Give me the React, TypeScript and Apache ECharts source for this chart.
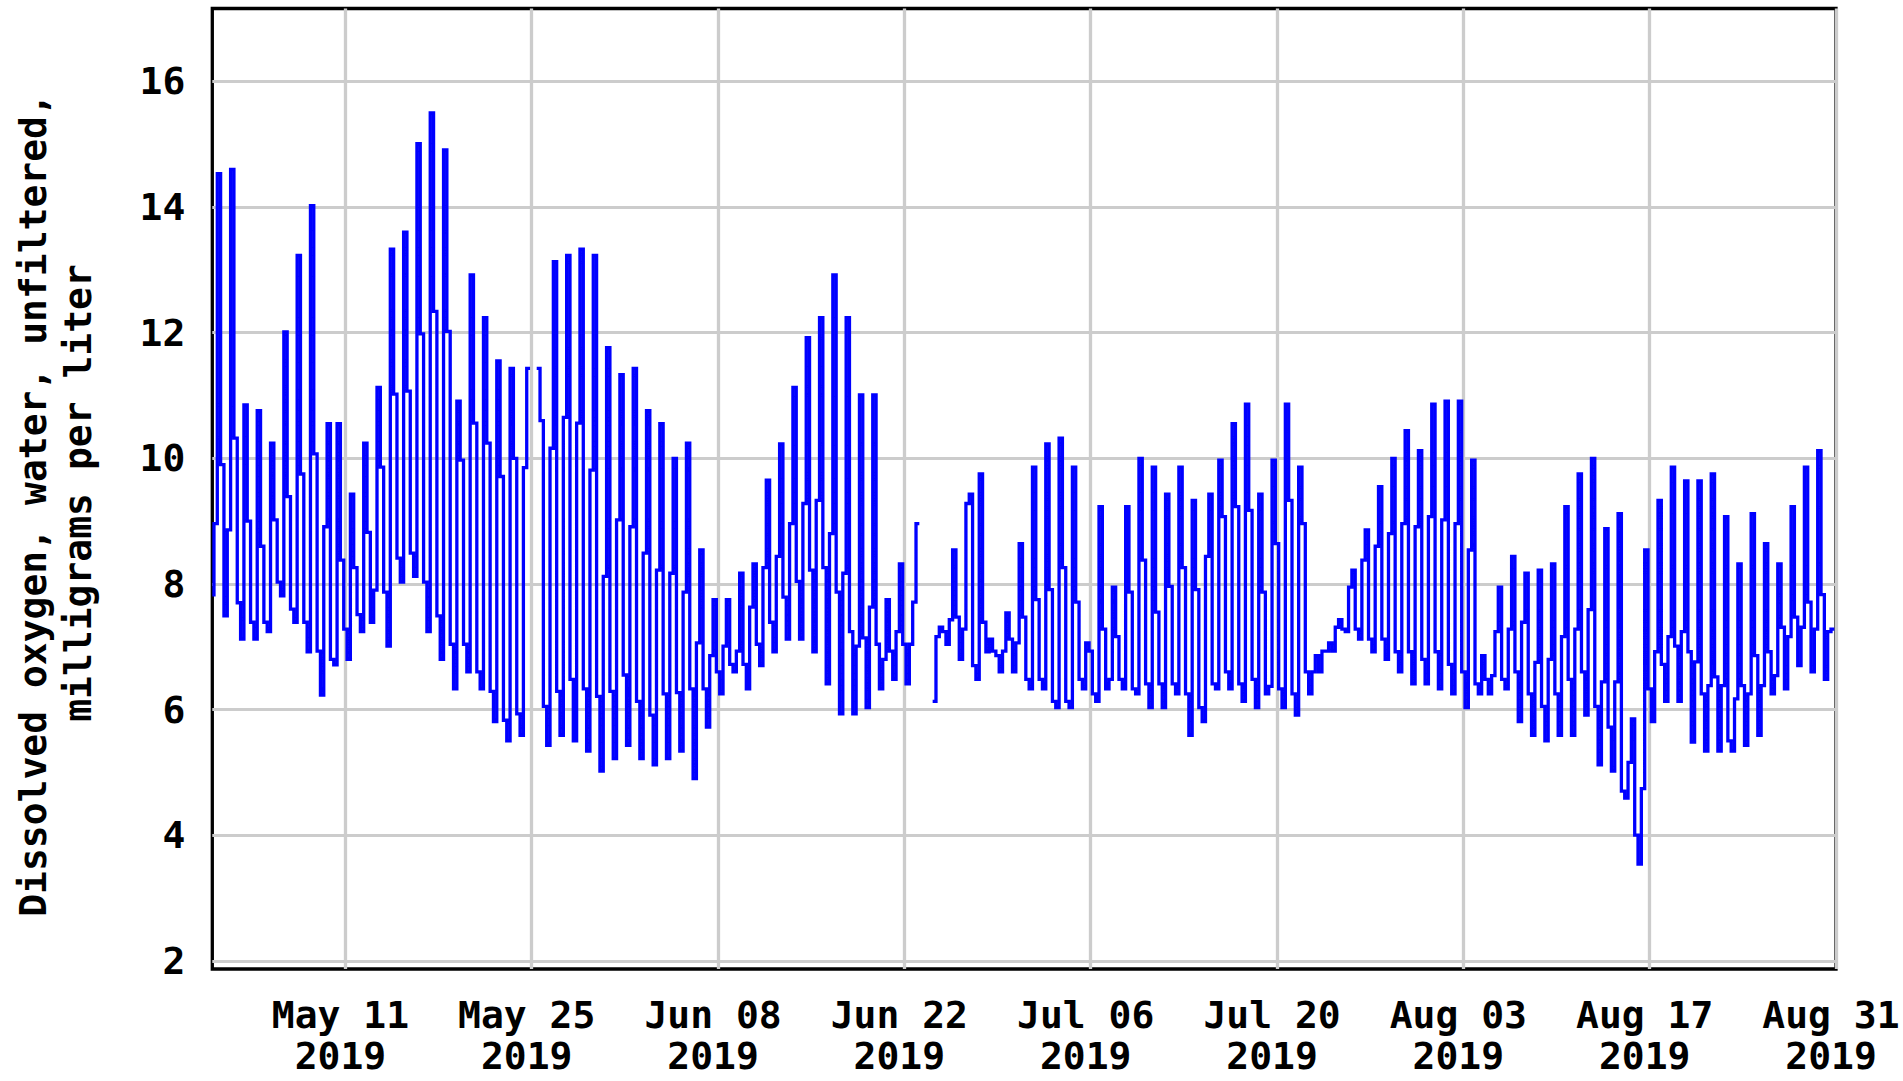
import React, { useEffect, useRef } from "react";
import * as echarts from "echarts";

// Dissolved oxygen (mg/L), one reading every 6 hours starting 2019-05-01 00:00
const START_DATE = "2019-05-01";
const END_DATE = "2019-08-31";
const SAMPLE_HOURS = 6;

const MAY_DO: (number | null)[] = [
  7.8, 8.96, 14.53, 9.9,
  7.49, 8.86, 14.6, 10.32,
  7.7, 7.12, 10.85, 9.0,
  7.39, 7.12, 10.76, 8.6,
  7.39, 7.24, 10.24, 9.02,
  8.03, 7.81, 12.01, 9.39,
  7.6, 7.39, 13.23, 9.75,
  7.39, 6.92, 14.02, 10.07,
  6.93, 6.23, 8.91, 10.55,
  6.8, 6.71, 10.55, 8.38,
  7.28, 6.8, 9.43, 8.26,
  7.51, 7.24, 10.24, 8.82,
  7.39, 7.9, 11.13, 9.86,
  7.87, 7.01, 13.33, 11.02,
  8.41, 8.03, 13.6, 11.07,
  8.49, 8.12, 15.01, 11.98,
  8.03, 7.24, 15.5, 12.34,
  7.49, 6.8, 14.91, 12.02,
  7.04, 6.33, 10.91, 9.97,
  7.04, 6.6, 12.92, 10.56,
  6.6, 6.33, 12.24, 10.24,
  6.29, 5.81, 11.55, 9.71,
  5.83, 5.5, 11.43, 10.0,
  5.93, 5.59, 9.85, 11.43,
  null, null, 11.43, 10.6,
  6.05, 5.43, 10.16, 13.13,
  6.29, 5.59, 10.65, 13.23,
  6.48, 5.5, 10.56, 13.33,
  6.33, 5.34, 9.81, 13.23,
  6.21, 5.02, 8.12, 11.76,
  6.29, 5.22, 9.02, 11.33,
];

const JUN_DO: (number | null)[] = [
  6.55, 5.43, 8.91, 11.43,
  6.13, 5.22, 8.49, 10.76,
  5.91, 5.12, 8.22, 10.55,
  6.25, 5.22, 8.17, 10.0,
  6.27, 5.34, 7.87, 10.24,
  6.33, 4.9, 7.06, 8.54,
  6.33, 5.72, 6.86, 7.75,
  6.6, 6.25, 7.01, 7.75,
  6.72, 6.6, 6.93, 8.17,
  6.72, 6.33, 7.63, 8.32,
  7.04, 6.7, 8.26, 9.65,
  7.39, 6.92, 8.44, 10.23,
  7.79, 7.12, 8.96, 11.13,
  8.04, 7.12, 9.28, 11.92,
  8.22, 6.92, 9.33, 12.24,
  8.26, 6.41, 8.8, 12.92,
  7.87, 5.93, 8.17, 12.24,
  7.24, 5.93, 7.01, 11.01,
  7.14, 6.03, 7.63, 11.01,
  7.04, 6.33, 6.8, 7.75,
  6.93, 6.48, 7.24, 8.32,
  7.04, 6.41, 7.04, 7.71,
  8.96, null, null, null,
  null, 6.13, 7.16, 7.31,
  7.24, 7.04, 7.43, 8.54,
  7.47, 6.8, 7.28, 9.28,
  9.43, 6.7, 6.48, 9.75,
  7.39, 6.92, 7.12, 6.93,
  6.86, 6.6, 6.93, 7.54,
  7.12, 6.6, 7.06, 8.64,
];

const JUL_DO: (number | null)[] = [
  7.47, 6.48, 6.33, 9.86,
  7.75, 6.48, 6.33, 10.23,
  7.91, 6.13, 6.03, 10.32,
  8.26, 6.13, 6.03, 9.86,
  7.71, 6.48, 6.33, 7.06,
  6.93, 6.25, 6.13, 9.23,
  7.28, 6.33, 6.48, 7.95,
  7.16, 6.48, 6.33, 9.23,
  7.87, 6.33, 6.25, 10.0,
  8.38, 6.41, 6.03, 9.86,
  7.55, 6.41, 6.03, 9.43,
  7.96, 6.41, 6.25, 9.86,
  8.26, 6.25, 5.59, 9.33,
  7.91, 6.03, 5.81, 8.44,
  9.43, 6.41, 6.33, 9.97,
  9.07, 6.6, 6.33, 10.55,
  9.23, 6.41, 6.13, 10.86,
  9.17, 6.48, 6.03, 9.43,
  7.87, 6.25, 6.37, 9.97,
  8.64, 6.33, 6.03, 10.86,
  9.33, 6.25, 5.91, 9.86,
  8.96, 6.6, 6.25, 6.6,
  6.86, 6.6, 6.93, 6.93,
  7.06, 6.93, 7.31, 7.43,
  7.28, 7.24, 7.95, 8.22,
  7.28, 7.12, 8.38, 8.86,
  7.12, 6.92, 8.6, 9.55,
  7.12, 6.8, 8.8, 10.0,
  6.92, 6.6, 8.96, 10.44,
  6.92, 6.41, 8.91, 10.12,
  6.8, 6.41, 9.07, 10.86,
];

const AUG_DO: (number | null)[] = [
  6.92, 6.33, 9.02, 10.91,
  6.72, 6.25, 8.96, 10.91,
  6.6, 6.03, 8.54, 9.97,
  6.41, 6.25, 6.86, 6.48,
  6.25, 6.54, 7.24, 7.95,
  6.48, 6.33, 7.28, 8.44,
  6.6, 5.81, 7.39, 8.17,
  6.25, 5.59, 6.75, 8.22,
  6.05, 5.5, 6.8, 8.32,
  6.25, 5.59, 7.16, 9.23,
  6.48, 5.59, 7.28, 9.75,
  6.6, 5.91, 7.59, 10.0,
  6.05, 5.12, 6.44, 8.88,
  5.72, 5.02, 6.44, 9.12,
  4.7, 4.59, 5.16, 5.85,
  4.0, 3.54, 4.74, 8.54,
  6.33, 5.81, 6.92, 9.33,
  6.72, 6.13, 7.16, 9.86,
  7.01, 6.13, 7.24, 9.64,
  6.92, 5.48, 6.76, 9.64,
  6.25, 5.34, 6.38, 9.75,
  6.52, 5.34, 6.38, 9.07,
  5.5, 5.34, 6.17, 8.32,
  6.38, 5.43, 6.25, 9.12,
  6.86, 5.59, 6.38, 8.64,
  6.92, 6.25, 6.54, 8.32,
  7.31, 6.33, 7.16, 9.23,
  7.47, 6.7, 7.31, 9.86,
  7.71, 6.6, 7.28, 10.12,
  7.83, 6.48, 7.24, 7.28,
];

const X_TICK_DATES = [
  "2019-05-11", "2019-05-25", "2019-06-08", "2019-06-22", "2019-07-06",
  "2019-07-20", "2019-08-03", "2019-08-17", "2019-08-31",
];
const Y_TICKS = [2, 4, 6, 8, 10, 12, 14, 16];
const Y_MIN = 1.87;
const Y_MAX = 17.16;
const MONTH_ABBR = ["Jan", "Feb", "Mar", "Apr", "May", "Jun", "Jul", "Aug", "Sep", "Oct", "Nov", "Dec"];
const TITLE_LINES = ["Dissolved oxygen, water, unfiltered,", "milligrams per liter"];

const MS_DAY = 86400000;
const startMs = Date.parse(START_DATE + "T00:00:00Z");
const dayOf = (d: string) => (Date.parse(d + "T00:00:00Z") - startMs) / MS_DAY;

const FONT = '"DejaVu Sans Mono", monospace';

export default function App() {
  const ref = useRef<HTMLDivElement>(null);

  useEffect(() => {
    document.body.style.margin = "0";
    if (!ref.current) return;
    const chart = echarts.init(ref.current, undefined, { renderer: "svg" });

    const all = [...MAY_DO, ...JUN_DO, ...JUL_DO, ...AUG_DO];
    const data = all.map((v, i) => [((i + 0.5) * SAMPLE_HOURS) / 24, v == null ? "-" : v]);
    const xTicks = X_TICK_DATES.map(dayOf);

    const fmtDate = (v: number) => {
      const d = new Date(startMs + Math.round(v * MS_DAY));
      const dd = String(d.getUTCDate()).padStart(2, "0");
      return `${MONTH_ABBR[d.getUTCMonth()]} ${dd}\n${d.getUTCFullYear()}`;
    };

    const labelStyle = {
      fontFamily: FONT,
      fontSize: 38,
      fontWeight: "bold" as const,
      color: "#000",
    };

    chart.setOption({
      animation: false,
      backgroundColor: "#ffffff",
      grid: {
        left: 212.3,
        top: 8.5,
        width: 1623.7,
        height: 960.5,
        show: true,
        borderColor: "#000",
        borderWidth: 3.3,
        backgroundColor: "transparent",
        containLabel: false,
        outerBoundsMode: "none",
      },
      xAxis: {
        type: "value",
        min: 0,
        max: dayOf(END_DATE),
        axisLine: { show: false },
        axisTick: { show: false, customValues: xTicks },
        axisLabel: {
          ...labelStyle,
          customValues: xTicks,
          formatter: (v: number) => fmtDate(v),
          margin: 25,
          lineHeight: 41,
          align: "center",
          padding: [0, 10, 0, 0],
        },
        splitLine: { show: true, lineStyle: { color: "#cccccc", width: 3.3 } },
      },
      yAxis: {
        type: "value",
        min: Y_MIN,
        max: Y_MAX,
        axisLine: { show: false },
        axisTick: { show: false, customValues: Y_TICKS },
        axisLabel: {
          ...labelStyle,
          customValues: Y_TICKS,
          formatter: (v: number) => String(Math.round(v)),
          margin: 27,
        },
        splitLine: { show: true, lineStyle: { color: "#cccccc", width: 3 } },
      },
      series: [
        {
          type: "line",
          data,
          step: "start",
          showSymbol: false,
          symbol: "none",
          connectNulls: false,
          clip: true,
          lineStyle: { color: "#0000ff", width: 3.3, join: "miter" },
          itemStyle: { color: "#0000ff" },
          z: 3,
        },
      ],
      graphic: [
        {
          type: "text",
          x: 33,
          y: 505,
          rotation: Math.PI / 2,
          style: {
            text: TITLE_LINES[0],
            fontFamily: FONT,
            fontSize: 38,
            fontWeight: "bold",
            fill: "#000",
            align: "center",
            verticalAlign: "middle",
          },
        },
        {
          type: "text",
          x: 78,
          y: 493,
          rotation: Math.PI / 2,
          style: {
            text: TITLE_LINES[1],
            fontFamily: FONT,
            fontSize: 38,
            fontWeight: "bold",
            fill: "#000",
            align: "center",
            verticalAlign: "middle",
          },
        },
      ],
    });

    return () => chart.dispose();
  }, []);

  return (
    <div
      ref={ref}
      style={{ position: "fixed", left: 0, top: 0, width: 1903, height: 1081, background: "#fff" }}
    />
  );
}
